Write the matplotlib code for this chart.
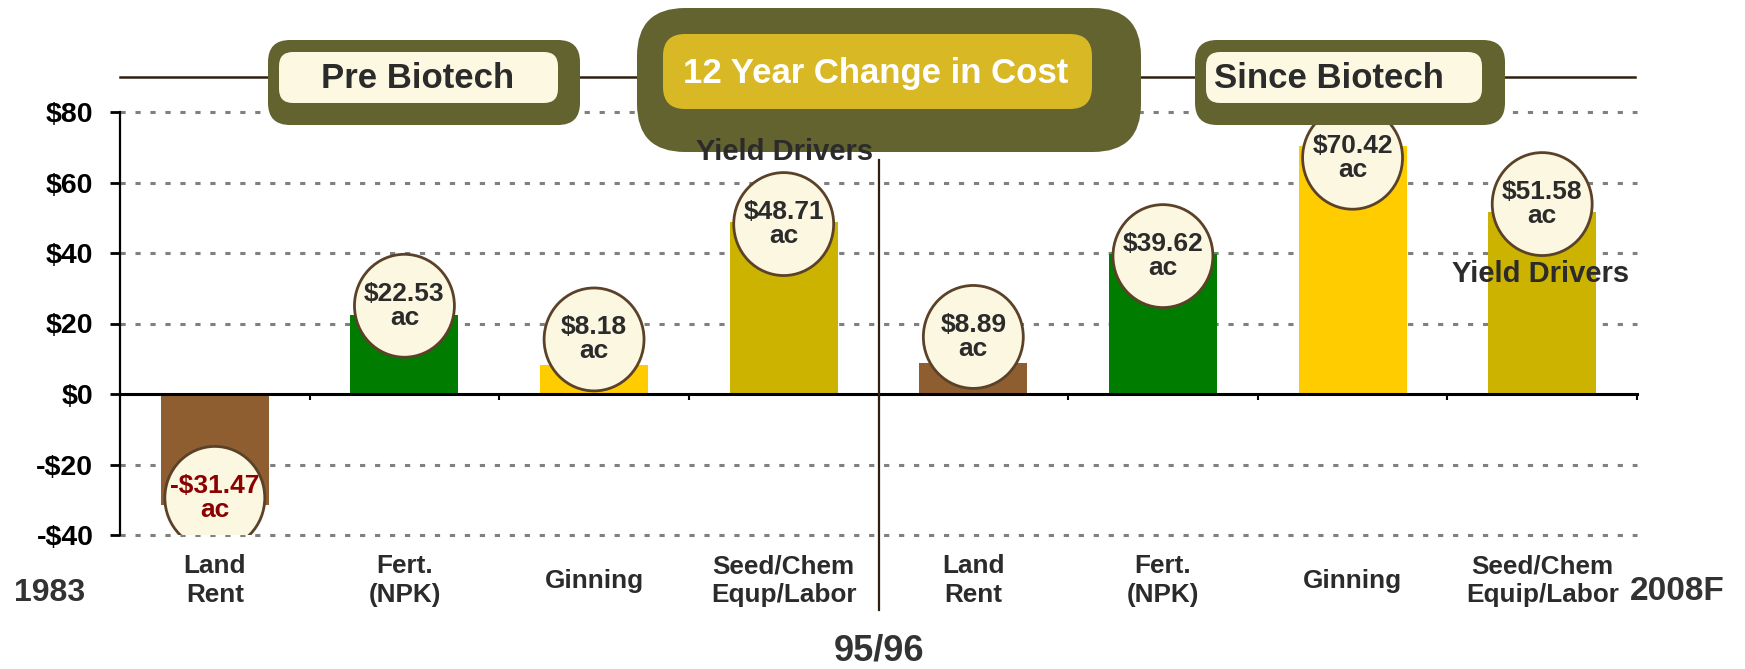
import matplotlib
matplotlib.use("Agg")
import matplotlib.pyplot as plt
from matplotlib.patches import FancyBboxPatch, Ellipse
from matplotlib.lines import Line2D
from matplotlib.transforms import IdentityTransform

plt.rcParams['font.family'] = ['Liberation Sans', 'DejaVu Sans']
plt.rcParams['font.weight'] = 'bold'

# data
categories = ["Land\nRent", "Fert.\n(NPK)", "Ginning", "Seed/Chem\nEqup/Labor",
              "Land\nRent", "Fert.\n(NPK)", "Ginning", "Seed/Chem\nEquip/Labor"]
values = [-31.47, 22.53, 8.18, 48.71, 8.89, 39.62, 70.42, 51.58]
bar_colors = ["#8E5E30", "#007D00", "#FFCC00", "#CCB300",
              "#8E5E30", "#007D00", "#FFCC00", "#CCB300"]
yticks = [-40, -20, 0, 20, 40, 60, 80]
# where the value badge sits relative to the bar end (data units)
badge_shift = [2.0, 2.5, 7.3, -0.5, 7.3, -0.5, -3.4, 2.3]

W, H = 1745, 669
DARK = "#2B2B2B"
OLIVE = "#636330"
CREAM = "#FCF8E2"

fig = plt.figure(figsize=(W / 100, H / 100), dpi=100)
ax = fig.add_axes([120 / W, 1 - 535 / H, (1637 - 120) / W, (535 - 112) / H])
ax.set_xlim(-0.5, 7.5)
ax.set_ylim(-40, 80)

x = list(range(len(values)))

# grid
for v in yticks:
    if v == 0:
        continue
    ax.axhline(v, color="#808080", lw=2.2, ls=(0, (1.7, 3.2)), zorder=0.5, clip_on=False)

ax.bar(x, values, width=0.57, color=bar_colors, zorder=2)

# value badges
for i, v in enumerate(values):
    yc = v + badge_shift[i]
    ax.add_patch(Ellipse((i, yc), 0.527, 29.2, facecolor="#FCF7E0",
                         edgecolor="#5A4128", lw=2, zorder=3))
    txt = ("-$%.2f" % abs(v)) if v < 0 else ("$%.2f" % v)
    ax.text(i, yc, txt + "\nac", ha="center", va="center", ma="center",
            fontsize=19, linespacing=1.0, zorder=4,
            color="#8B0000" if v < 0 else DARK)

# axes styling
for s in ["top", "right"]:
    ax.spines[s].set_visible(False)
ax.spines["left"].set_linewidth(1.6)
ax.spines["bottom"].set_position(("data", 0))
ax.spines["bottom"].set_linewidth(2.2)
ax.spines["bottom"].set_zorder(2.5)
ax.set_yticks(yticks)
ax.set_yticklabels([("-$%d" % abs(v)) if v < 0 else ("$%d" % v) for v in yticks])
ax.tick_params(axis="y", length=7.2, width=2, pad=12, labelsize=20.5)
ax.set_xticks([i + 0.5 for i in x])
ax.set_xticklabels([])
ax.tick_params(axis="x", length=4, width=1.5, direction="out")

for i, lab in enumerate(categories):
    ax.annotate(lab, xy=(i, -40), xytext=(0, -33), textcoords="offset points",
                ha="center", va="center", ma="center", fontsize=18.8,
                linespacing=1.25, color=DARK, annotation_clip=False)

# divider between periods
ax.plot([3.5, 3.5], [66.4, -61.3], color="#2E2010", lw=1.6, clip_on=False, zorder=3)

# header banners (pixel coordinates, top-left origin)
ident = IdentityTransform()


def box(x0, y0, x1, y1, r, color):
    fig.add_artist(FancyBboxPatch((x0, H - y1), x1 - x0, y1 - y0,
                                  boxstyle="round,pad=0,rounding_size=%d" % r,
                                  transform=ident, facecolor=color, lw=0, zorder=1))


fig.add_artist(Line2D([120, 1635], [H - 77, H - 77], transform=ident,
                      color="#2E2010", lw=1.8, zorder=0.6))
box(268, 40, 580, 125, 22, OLIVE)
box(279, 52, 558, 103, 14, CREAM)
box(637, 8, 1141, 152, 48, OLIVE)
box(663, 34, 1092, 109, 22, "#D9B826")
box(1195, 40, 1505, 125, 22, OLIVE)
box(1206, 52, 1482, 103, 14, CREAM)


def ftext(px, py, s, size, color=DARK, **kw):
    fig.text(px / W, 1 - py / H, s, ha="center", va="center", fontsize=size,
             color=color, **kw)


ftext(418, 78, "Pre Biotech", 25)
ftext(876, 74, "12 Year Change in Cost", 25)
fig.texts[-1].set_color("white")
ftext(1329, 78, "Since Biotech", 25)
ftext(785, 152, "Yield Drivers", 21)
ftext(1541, 274, "Yield Drivers", 21)
ftext(50, 593, "1983", 23, color="#333333")
ftext(1677, 591, "2008F", 24, color="#333333")
ftext(879, 651, "95/96", 26, color="#333333")

fig.savefig("out.png", dpi=100)
